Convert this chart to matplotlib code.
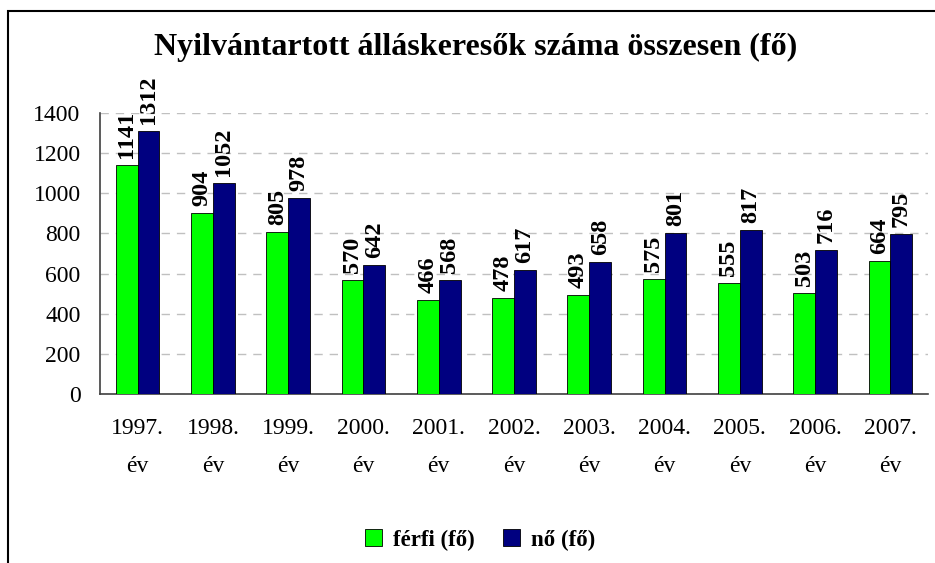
import matplotlib
matplotlib.use("Agg")
import matplotlib.pyplot as plt
from matplotlib.patches import Rectangle
import numpy as np

years = ["1997.", "1998.", "1999.", "2000.", "2001.", "2002.",
         "2003.", "2004.", "2005.", "2006.", "2007."]
ferfi = [1141, 904, 805, 570, 466, 478, 493, 575, 555, 503, 664]
no = [1312, 1052, 978, 642, 568, 617, 658, 801, 817, 716, 795]

GREEN = "#00FF00"
NAVY = "#000080"
SERIF = "Liberation Serif"

plt.rcParams["font.family"] = SERIF

fig = plt.figure(figsize=(9.35, 5.63), dpi=100)
ax = fig.add_axes([100 / 935, 1 - 394 / 563, 828 / 935, 281 / 563])

x = np.arange(len(years))
w = 0.29
ax.bar(x - w / 2, ferfi, w, color=GREEN, edgecolor="black", linewidth=0.6, label="férfi (fő)", zorder=3)
ax.bar(x + w / 2, no, w, color=NAVY, edgecolor="black", linewidth=0.6, label="nő (fő)", zorder=3)

# value labels, rotated, just above each bar
for xi, (f, n) in enumerate(zip(ferfi, no)):
    ax.text(xi - w / 2, f + 35, str(f), rotation=90, ha="center", va="bottom",
            fontsize=17.5, fontweight="bold", zorder=4)
    ax.text(xi + w / 2, n + 35, str(n), rotation=90, ha="center", va="bottom",
            fontsize=17.5, fontweight="bold", zorder=4)

ax.set_xlim(-0.5, len(years) - 0.5)
ax.set_ylim(0, 1400)
ax.set_yticks(range(0, 1401, 200))
ax.set_xticks(x)
ax.set_xticklabels([f"{y}\név" for y in years], linespacing=2.1)
ax.tick_params(axis="both", length=0, labelsize=17)
ax.tick_params(axis="x", pad=17)
ax.tick_params(axis="y", pad=14)

ax.grid(axis="y", linestyle=(0, (6, 5)), color="#c0c0c0", linewidth=1, zorder=0)
for s in ["top", "right"]:
    ax.spines[s].set_visible(False)
for s in ["left", "bottom"]:
    ax.spines[s].set_color("#404040")
    ax.spines[s].set_linewidth(1.2)

fig.text(476 / 935, 1 - 47 / 563, "Nyilvántartott álláskeresők száma összesen (fő)",
         ha="center", va="center", fontsize=23, fontweight="bold")

ax.legend(loc="center", bbox_to_anchor=(480 / 935, 1 - 540 / 563),
          bbox_transform=fig.transFigure, ncol=2, frameon=False,
          prop={"family": SERIF, "weight": "bold", "size": 16.5},
          handlelength=0.75, handleheight=0.75, handletextpad=0.5, columnspacing=1.2)

# outer chart frame (clipped on right and bottom)
fig.patches.append(Rectangle((8 / 935, -0.1), 1.2, 0.1 + 1 - 11 / 563,
                             transform=fig.transFigure, fill=False,
                             edgecolor="black", linewidth=1.5))

fig.savefig("out.png", dpi=100)
